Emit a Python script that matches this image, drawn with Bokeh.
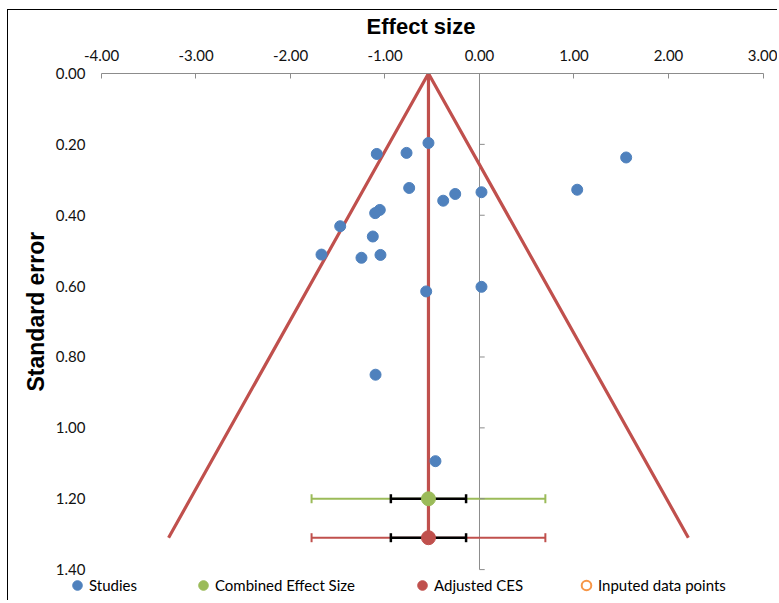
from bokeh.plotting import figure
from bokeh.models import (Range1d, FixedTicker, NumeralTickFormatter, Title,
                          Whisker, TeeHead, ColumnDataSource, Legend, LegendItem)
from bokeh.embed import file_html
from bokeh.resources import INLINE

# ---- data ----
study_es = [-0.54, -1.087, -0.772, 1.552, -0.744, -0.257, -0.384, 0.021, 1.034,
            -1.055, -1.104, -1.474, -1.129, -1.672, -1.249, -1.048, -0.564,
            0.021, -1.10, -0.466]
study_se = [0.196, 0.227, 0.224, 0.237, 0.323, 0.340, 0.359, 0.335, 0.328,
            0.385, 0.394, 0.431, 0.460, 0.511, 0.520, 0.512, 0.615,
            0.602, 0.850, 1.094]

ces_es = [-0.54]
ces_se = [1.20]
adj_es = [-0.54]
adj_se = [1.31]
ci_low = [-0.938]
ci_high = [-0.142]
pi_low = [-1.777]
pi_high = [0.697]

imputed_es = []
imputed_se = []

funnel_es = [-3.29, -0.54, 2.21]
funnel_se = [1.31, 0.0, 1.31]
center_es = [-0.54, -0.54]
center_se = [0.0, 1.31]

x_ticks = [-4, -3, -2, -1, 0, 1, 2, 3]
y_ticks = [0.0, 0.2, 0.4, 0.6, 0.8, 1.0, 1.2, 1.4]

BLUE = "#4F81BD"
GREEN = "#9BBB59"
RED = "#C0504D"
ORANGE = "#F79646"
GRAY = "#8C8C8C"

# frame is widened to leave room for the legend row below the plotted area
p = figure(width=770, height=591, x_range=Range1d(-4.402, 3.164),
           y_range=Range1d(1.49, 0),
           x_axis_location="above", output_backend="svg", toolbar_location=None,
           min_border_left=55, min_border_top=60, min_border_right=0,
           min_border_bottom=0)
p.styles = {"border-top": "1px solid black", "border-left": "1px solid black",
            "margin-top": "9px", "margin-left": "7px"}
p.grid.visible = False
p.outline_line_color = None
p.background_fill_color = "white"

# top axis
xa = p.xaxis[0]
xa.bounds = (x_ticks[0], x_ticks[-1])
xa.ticker = FixedTicker(ticks=x_ticks)
xa.formatter = NumeralTickFormatter(format="0.00")
xa.axis_line_color = GRAY
xa.major_tick_line_color = GRAY
xa.major_tick_in = 5
xa.major_tick_out = 0
xa.minor_tick_line_color = None
xa.major_label_standoff = 13
xa.major_label_text_font = "Lato"
xa.major_label_text_font_size = "15px"
xa.major_label_text_color = "#111111"
xa.axis_label = "Effect size"
xa.axis_label_text_font = "Liberation Sans"
xa.axis_label_text_font_style = "bold"
xa.axis_label_text_font_size = "22px"
xa.axis_label_text_color = "black"
xa.axis_label_standoff = 8

# left axis (labels only)
ya = p.yaxis[0]
ya.bounds = (y_ticks[0], y_ticks[-1])
ya.ticker = FixedTicker(ticks=y_ticks)
ya.formatter = NumeralTickFormatter(format="0.00")
ya.axis_line_color = None
ya.major_tick_line_color = None
ya.minor_tick_line_color = None
ya.major_tick_in = 0
ya.major_tick_out = 0
ya.major_label_standoff = -22
ya.major_label_text_font = "Lato"
ya.major_label_text_font_size = "15px"
ya.major_label_text_color = "#111111"

p.add_layout(Title(text="Standard error", align="left", offset=210,
                   text_font="Liberation Sans", text_font_style="bold",
                   text_font_size="23px", text_color="black", standoff=7), "left")

# vertical axis line at x = 0 with small ticks
p.segment(x0=[0], x1=[0], y0=[y_ticks[0]], y1=[y_ticks[-1]],
          line_color=GRAY, line_width=1, level="underlay")
p.segment(x0=[0] * len(y_ticks), x1=[0.055] * len(y_ticks), y0=y_ticks, y1=y_ticks,
          line_color=GRAY, line_width=1)

# funnel and centre line
p.line(funnel_es, funnel_se, line_color=RED, line_width=3.2)
p.line(center_es, center_se, line_color=RED, line_width=3.2)

# error bars
def bars(base, lo, hi, color, width):
    src = ColumnDataSource(dict(base=base, lower=lo, upper=hi))
    w = Whisker(source=src, base="base", lower="lower", upper="upper",
                dimension="width", line_color=color, line_width=width,
                upper_head=TeeHead(size=9, line_color=color, line_width=width),
                lower_head=TeeHead(size=9, line_color=color, line_width=width))
    p.add_layout(w)

bars(ces_se, pi_low, pi_high, GREEN, 2)
bars(ces_se, ci_low, ci_high, "black", 2.5)
bars(adj_se, pi_low, pi_high, RED, 2)
bars(adj_se, ci_low, ci_high, "black", 2.5)

r_studies = p.scatter(study_es, study_se, size=11, color=BLUE)
r_ces = p.scatter(ces_es, ces_se, size=14, color=GREEN)
r_adj = p.scatter(adj_es, adj_se, size=14, color=RED)
# no imputed points; a NaN row keeps the legend swatch drawable
imp_x = imputed_es if imputed_es else [float("nan")]
imp_y = imputed_se if imputed_se else [float("nan")]
r_imp = p.scatter(imp_x, imp_y, size=9, fill_color="white",
                  line_color=ORANGE, line_width=2)

labels = ["Studies", "Combined Effect Size", "Adjusted CES", "Inputed data points"]
rends = [r_studies, r_ces, r_adj, r_imp]
leg_x = [2, 128, 347, 511]
for lab, r, lx in zip(labels, rends, leg_x):
    leg = Legend(items=[LegendItem(label=lab, renderers=[r])], location=(lx, 4),
                 orientation="horizontal", glyph_width=24, glyph_height=24,
                 label_standoff=0, padding=0, margin=0, border_line_color=None,
                 background_fill_alpha=0, label_text_font="Lato",
                 label_text_font_size="15px", label_text_color="black",
                 label_height=24, spacing=0)
    p.add_layout(leg)

open("out.html", "w").write(file_html(p, INLINE))
